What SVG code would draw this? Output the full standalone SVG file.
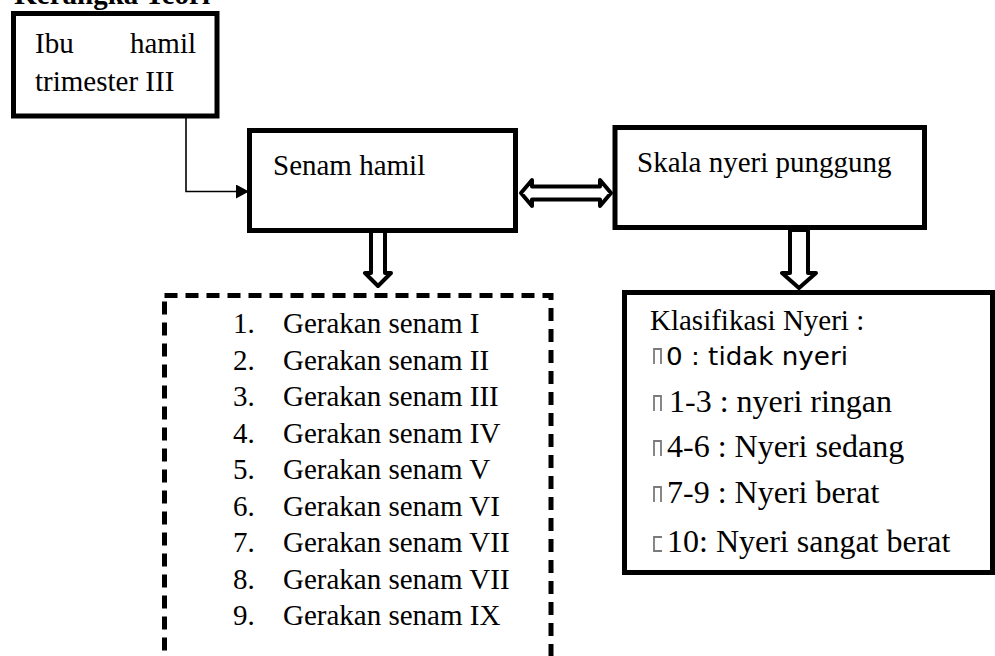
<svg xmlns="http://www.w3.org/2000/svg" width="995" height="656" viewBox="0 0 995 656">
<defs>
<style>
.box{fill:#fff;stroke:#000;stroke-width:5}
.dash{fill:#fff;stroke:#000;stroke-width:5;stroke-dasharray:13 8}
.t{font-family:"Liberation Serif","Times New Roman",serif;font-size:29px;fill:#000}
.k{font-family:"Liberation Serif","Times New Roman",serif;font-size:32px;fill:#000}
.h{font-family:"Liberation Serif","Times New Roman",serif;font-size:29px;font-weight:bold;fill:#000}
.s{font-family:"DejaVu Sans","Liberation Sans",sans-serif;font-size:25px;fill:#000}
.hollow{fill:#fff;stroke:#000;stroke-width:4;stroke-linejoin:round}
.thin{fill:none;stroke:#000;stroke-width:1.6}
.bul{fill:none;stroke:#7a7a7a;stroke-width:1.8}
</style>
<marker id="tri" viewBox="0 0 13 14" refX="13" refY="7" markerWidth="13" markerHeight="14" markerUnits="userSpaceOnUse" orient="auto">
<path d="M0,0 L13,7 L0,14 Z" fill="#000"/>
</marker>
</defs>
<rect width="995" height="656" fill="#fff"/>
<text class="h" x="210" y="4" text-anchor="end">Kerangka Teori</text>

<g id="ibu-hamil">
<rect class="box" x="13.5" y="13.5" width="203.5" height="102.5"/>
<text class="t" x="35" y="53">Ibu</text>
<text class="t" x="196" y="53" text-anchor="end">hamil</text>
<text class="t" x="35" y="91">trimester III</text>
</g>

<g id="senam-hamil">
<rect class="box" x="249.5" y="130.5" width="266" height="100"/>
<text class="t" x="273" y="175">Senam hamil</text>
</g>

<g id="skala-nyeri">
<rect class="box" x="615" y="127.5" width="309.5" height="100"/>
<text class="t" x="637" y="172">Skala nyeri punggung</text>
</g>

<g id="gerakan">
<rect class="dash" x="164.5" y="295.5" width="386.5" height="400"/>
<text class="t" x="233" y="333">1.</text><text class="t" x="283" y="333">Gerakan senam I</text>
<text class="t" x="233" y="369.5">2.</text><text class="t" x="283" y="369.5">Gerakan senam II</text>
<text class="t" x="233" y="406">3.</text><text class="t" x="283" y="406">Gerakan senam III</text>
<text class="t" x="233" y="442.5">4.</text><text class="t" x="283" y="442.5">Gerakan senam IV</text>
<text class="t" x="233" y="479">5.</text><text class="t" x="283" y="479">Gerakan senam V</text>
<text class="t" x="233" y="515.5">6.</text><text class="t" x="283" y="515.5">Gerakan senam VI</text>
<text class="t" x="233" y="552">7.</text><text class="t" x="283" y="552">Gerakan senam VII</text>
<text class="t" x="233" y="588.5">8.</text><text class="t" x="283" y="588.5">Gerakan senam VII</text>
<text class="t" x="233" y="625">9.</text><text class="t" x="283" y="625">Gerakan senam IX</text>
</g>

<g id="klasifikasi">
<rect class="box" x="624.5" y="292.5" width="368" height="280"/>
<text class="t" x="650" y="330" font-size="30">Klasifikasi Nyeri :</text>
<path class="bul" d="M654,364 V349 H661 V364"/>
<text class="s" x="666" y="365" textLength="182" lengthAdjust="spacingAndGlyphs">0 : tidak nyeri</text>
<path class="bul" d="M654,411 V396 H661 V411"/>
<text class="k" x="669" y="412">1-3 : nyeri ringan</text>
<path class="bul" d="M654,456 V441 H661 V456"/>
<text class="k" x="667" y="457">4-6 : Nyeri sedang</text>
<path class="bul" d="M654,502 V487 H661 V502"/>
<text class="k" x="667" y="503">7-9 : Nyeri berat</text>
<path class="bul" d="M662,537 H654 V551 H662"/>
<text class="k" x="667" y="552">10: Nyeri sangat berat</text>
</g>

<g id="connectors">
<path class="thin" d="M186,118 V191.5 H249" marker-end="url(#tri)"/>
<path class="hollow" d="M521,193 L532,180 L532,186.5 L600,186.5 L600,180 L611,193 L600,206 L600,199.5 L532,199.5 L532,206 Z"/>
<path class="hollow" d="M371,231 H385 V273 H391 L378,286 L365,273 H371 Z"/>
<path class="hollow" d="M790,230 H808 V273 H816 L799,288 L782,273 H790 Z"/>
</g>
</svg>
